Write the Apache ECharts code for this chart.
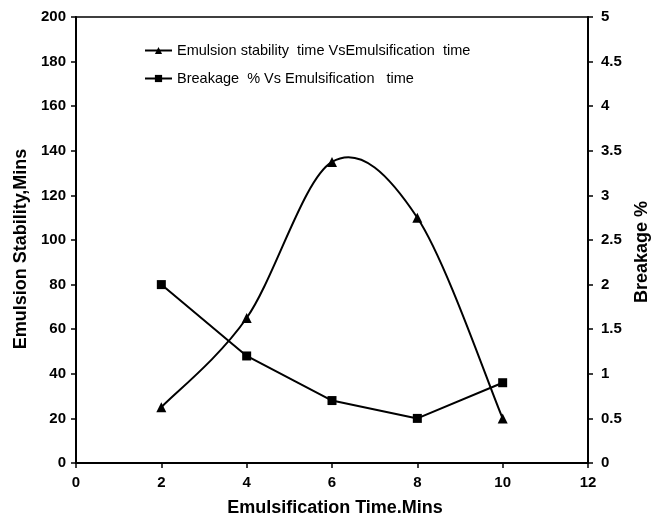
<!DOCTYPE html>
<html><head><meta charset="utf-8">
<script src="https://cdn.jsdelivr.net/npm/echarts@6/dist/echarts.min.js"></script>
<style>html,body{margin:0;padding:0;background:#fff}#c{width:652px;height:519px}</style>
</head><body><div id="c"></div>
<script>
const xValues = [2, 4, 6, 8, 10];
const stabilityMins = [25, 65, 135, 110, 20];
const breakagePct = [2.0, 1.2, 0.7, 0.5, 0.9];
const seriesNames = ['Emulsion stability  time VsEmulsification  time', 'Breakage  % Vs Emulsification   time'];

const F = 'Liberation Sans, Arial, sans-serif';
const chart = echarts.init(document.getElementById('c'));
const axisLbl = {color:'#000', fontFamily:F, fontWeight:'bold', fontSize:15};
const nameStyle = {color:'#000', fontFamily:F, fontWeight:'bold', fontSize:18};

// Smooth (Catmull-Rom style) curve through the data points, drawn in pixel space via the axes
function smoothCurve(params, api) {
  if (params.dataIndex !== 0) return;
  const pts = xValues.map((x, i) => api.coord([x, stabilityMins[i]]));
  let d = 'M' + pts[0][0] + ' ' + pts[0][1];
  for (let i = 0; i < pts.length - 1; i++) {
    const p0 = pts[Math.max(i - 1, 0)], p1 = pts[i], p2 = pts[i + 1], p3 = pts[Math.min(i + 2, pts.length - 1)];
    const c1 = [p1[0] + (p2[0] - p0[0]) / 6, p1[1] + (p2[1] - p0[1]) / 6];
    const c2 = [p2[0] - (p3[0] - p1[0]) / 6, p2[1] - (p3[1] - p1[1]) / 6];
    d += ' C' + c1.join(' ') + ' ' + c2.join(' ') + ' ' + p2.join(' ');
  }
  return {type:'path', shape:{pathData:d}, style:{stroke:'#000', lineWidth:2, fill:'none'}, silent:true};
}

chart.setOption({
  animation:false,
  backgroundColor:'#fff',
  grid:{left:76, right:64, top:17, bottom:56, containLabel:false, outerBoundsMode:'none',
        show:true, borderColor:'#000', borderWidth:1.5},
  legend:{
    orient:'vertical', left:139, top:38, itemGap:13, itemWidth:27, itemHeight:9,
    textStyle:{color:'#000', fontFamily:F, fontSize:14.5},
    data:[
      {name:seriesNames[0], lineStyle:{opacity:1, color:'#000', width:2}},
      {name:seriesNames[1]}
    ]
  },
  xAxis:{
    type:'value', min:0, max:12, interval:2,
    name:'Emulsification Time.Mins', nameLocation:'middle', nameGap:36,
    nameTextStyle:Object.assign({padding:[0,0,0,6]}, nameStyle),
    axisLine:{lineStyle:{color:'#000', width:2}},
    axisTick:{inside:false, length:5, lineStyle:{color:'#000', width:1.5}},
    axisLabel:Object.assign({margin:12}, axisLbl),
    splitLine:{show:false}
  },
  yAxis:[{
    type:'value', min:0, max:200, interval:20, position:'left',
    name:'Emulsion Stability,Mins', nameLocation:'middle', nameGap:45,
    nameTextStyle:Object.assign({padding:[0,18,0,0]}, nameStyle),
    axisLine:{show:true, lineStyle:{color:'#000', width:2}},
    axisTick:{show:true, length:5, lineStyle:{color:'#000', width:1.5}},
    axisLabel:Object.assign({margin:10}, axisLbl),
    splitLine:{show:false}
  },{
    type:'value', min:0, max:5, interval:0.5, position:'right',
    name:'Breakage %', nameLocation:'middle', nameGap:42, nameRotate:90,
    nameTextStyle:Object.assign({padding:[0,24,0,0]}, nameStyle),
    axisLine:{show:true, lineStyle:{color:'#000', width:2}},
    axisTick:{show:true, length:5, lineStyle:{color:'#000', width:1.5}},
    axisLabel:Object.assign({margin:13}, axisLbl),
    splitLine:{show:false}
  }],
  series:[{
    name:seriesNames[0], type:'line', yAxisIndex:0,
    data:xValues.map((x,i)=>[x, stabilityMins[i]]),
    symbol:'triangle', symbolSize:10,
    lineStyle:{color:'#000', width:2, opacity:0}, itemStyle:{color:'#000'}, z:3
  },{
    name:'curve', type:'custom', yAxisIndex:0,
    data:xValues.map((x,i)=>[x, stabilityMins[i]]),
    renderItem:smoothCurve, z:2
  },{
    name:seriesNames[1], type:'line', yAxisIndex:1,
    data:xValues.map((x,i)=>[x, breakagePct[i]]),
    symbol:'rect', symbolSize:9,
    lineStyle:{color:'#000', width:2}, itemStyle:{color:'#000'}, z:3
  }]
});
</script></body></html>
